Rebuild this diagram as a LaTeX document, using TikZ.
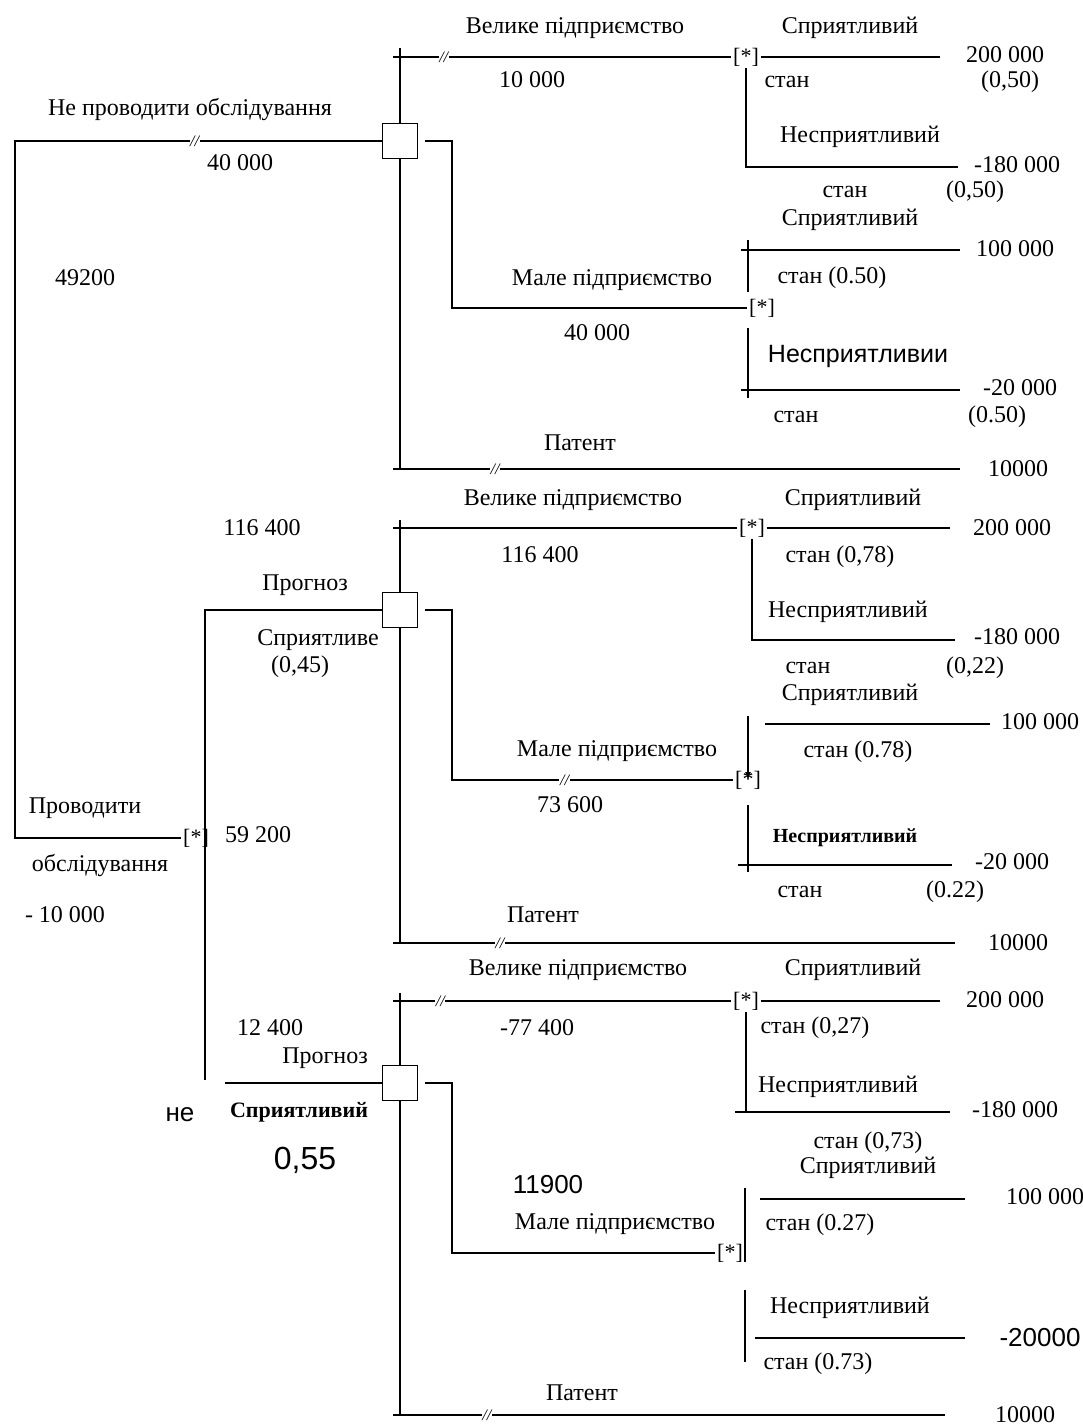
\documentclass[tikz,border=0pt]{standalone}
\usepackage{fontspec}
\setmainfont{Liberation Serif}
\newfontfamily\arialfont{Liberation Sans}
\usetikzlibrary{arrows.meta}

\begin{document}
\begin{tikzpicture}[x=0.5pt,y=-0.5pt,line width=0.9pt,
    txt/.style={font=\fontsize{12}{14}\selectfont,inner sep=0pt},
    smalltxt/.style={font=\fontsize{10}{11}\selectfont\bfseries,inner sep=0pt},
    sanstxt/.style={font=\arialfont\fontsize{13}{15}\selectfont,inner sep=0pt},
    decision/.style={draw,fill=white,minimum size=17.5pt,inner sep=0pt},
    chance/.style={font=\fontsize{11}{13}\selectfont,inner sep=0.5pt},
    cut/.style={fill=white,inner sep=0.3pt,font=\fontsize{8}{8}\selectfont\itshape}]
    \useasboundingbox (0,0) rectangle (1082,1428);

    % root
    \node(c0) [chance] at (196,838) {[*]};
    \coordinate(root) at (15,838);
    \node(d1) [decision] at (400,141) {};
    \node(d2) [decision] at (400,610) {};
    \node(d3) [decision] at (400,1083) {};
    \coordinate(fork) at (205,1080);
    \coordinate(feed) at (225,1083);

    \draw (c0.west) -- (root) |- node[cut,pos=0.745] {//} (d1.west);
    \draw (d2.west) -| (fork);
    \draw (feed) -- (d3.west);

    \node(t0a) [txt] at (190,110) {Не проводити обслідування};
    \node(t0b) [txt] at (240,163) {40 000};
    \node(t0c) [txt] at (85,278) {49200};
    \node(t0d) [txt] at (85,808) {Проводити};
    \node(t0e) [txt] at (100,865) {обслідування};
    \node(t0f) [txt] at (65,915) {- 10 000};
    \node(t0g) [txt] at (258,835) {59 200};
    \node(t0h) [txt] at (262,528) {116 400};
    \node(t0i) [txt] at (305,585) {Прогноз};
    \node(t0j) [txt] at (318,640) {Сприятливе};
    \node(t0k) [txt] at (300,667) {(0,45)};
    \node(t0l) [txt] at (270,1028) {12 400};
    \node(t0m) [txt] at (325,1058) {Прогноз};
    \node(t0n) [sanstxt] at (180,1115) {не};
    \node(t0o) [smalltxt,font=\fontsize{11}{12}\selectfont\bfseries] at (299,1112) {Сприятливий};
    \node(t0p) [sanstxt,font=\arialfont\fontsize{16}{18}\selectfont] at (305,1160) {0,55};

    % top block
    \coordinate(d1t) at (400,48);
    \coordinate(d1b) at (400,469);
    \draw (d1t) -- (d1.north);
    \draw (d1.south) -- (d1b);

    \node(c1) [chance] at (746,57) {[*]};
    \coordinate(a1) at (393,57);
    \coordinate(e1) at (940,57);
    \coordinate(e2) at (958,167);
    \draw (a1) -- node[cut,pos=0.15] {//} (c1.west);
    \draw (c1.east) -- (e1);
    \draw (c1.south) |- (e2);

    \node(c2) [chance] at (762,308) {[*]};
    \draw (d1.east) ++(3.5pt,0) -| (452,308) -- (c2.west);
    \coordinate(u1) at (748,240);
    \coordinate(u2) at (748,292);
    \coordinate(u3) at (741,250);
    \coordinate(e3) at (960,250);
    \coordinate(l1) at (748,328);
    \coordinate(l2) at (748,398);
    \coordinate(l3) at (741,390);
    \coordinate(e4) at (960,390);
    \draw (u1) -- (u2);
    \draw (u3) -- (e3);
    \draw (l1) -- (l2);
    \draw (l3) -- (e4);

    \coordinate(p1) at (393,469);
    \coordinate(e5) at (960,469);
    \draw (p1) -- node[cut,pos=0.18] {//} (e5);

    \node(t1a) [txt] at (575,28) {Велике підприємство};
    \node(t1b) [txt] at (532,80) {10 000};
    \node(t1c) [txt] at (850,28) {Сприятливий};
    \node(t1d) [txt] at (787,82) {стан};
    \node(t1e) [txt] at (1010,82) {(0,50)};
    \node(t1f) [txt] at (1005,55) {200 000};
    \node(t1g) [txt] at (860,137) {Несприятливий};
    \node(t1h) [txt] at (1017,165) {-180 000};
    \node(t1i) [txt] at (845,192) {стан};
    \node(t1j) [txt] at (975,192) {(0,50)};
    \node(t1k) [txt] at (612,280) {Мале підприємство};
    \node(t1l) [txt] at (597,333) {40 000};
    \node(t1m) [txt] at (850,220) {Сприятливий};
    \node(t1n) [txt] at (1015,249) {100 000};
    \node(t1o) [txt] at (832,278) {стан (0.50)};
    \node(t1p) [sanstxt,font=\arialfont\fontsize{12.5}{14}\selectfont] at (858,356) {Несприятливии};
    \node(t1q) [txt] at (1020,388) {-20 000};
    \node(t1r) [txt] at (796,417) {стан};
    \node(t1s) [txt] at (997,417) {(0.50)};
    \node(t1t) [txt] at (580,443) {Патент};
    \node(t1u) [txt] at (1018,469) {10000};

    % middle block
    \coordinate(d2t) at (400,520);
    \coordinate(d2b) at (400,943);
    \draw (d2t) -- (d2.north);
    \draw (d2.south) -- (d2b);

    \node(c3) [chance] at (752,528) {[*]};
    \coordinate(a2) at (393,528);
    \coordinate(e6) at (950,528);
    \coordinate(e7) at (955,640);
    \draw (a2) -- (c3.west);
    \draw (c3.east) -- (e6);
    \draw (c3.south) |- (e7);

    \node(c4) [chance] at (748,780) {[*]};
    \draw (d2.east) ++(3.5pt,0) -| (452,780) -- node[cut,pos=0.4] {//} (c4.west);
    \coordinate(u4) at (748,716);
    \coordinate(u5) at (765,724);
    \coordinate(e8) at (990,724);
    \coordinate(l4) at (748,805);
    \coordinate(l5) at (748,872);
    \coordinate(l6) at (738,865);
    \coordinate(e9) at (952,865);
    \draw[-{Latex[length=4pt,width=3pt]}] (u4) -- (c4.center);
    \draw (u5) -- (e8);
    \draw (l4) -- (l5);
    \draw (l6) -- (e9);

    \coordinate(p2) at (393,943);
    \coordinate(e10) at (955,943);
    \draw (p2) -- node[cut,pos=0.19] {//} (e10);

    \node(t2a) [txt] at (573,500) {Велике підприємство};
    \node(t2b) [txt] at (540,555) {116 400};
    \node(t2c) [txt] at (853,500) {Сприятливий};
    \node(t2d) [txt] at (1012,528) {200 000};
    \node(t2e) [txt] at (840,557) {стан (0,78)};
    \node(t2f) [txt] at (848,612) {Несприятливий};
    \node(t2g) [txt] at (1017,637) {-180 000};
    \node(t2h) [txt] at (808,668) {стан};
    \node(t2i) [txt] at (975,668) {(0,22)};
    \node(t2j) [txt] at (617,751) {Мале підприємство};
    \node(t2k) [txt] at (570,805) {73 600};
    \node(t2l) [txt] at (850,695) {Сприятливий};
    \node(t2m) [txt] at (1040,722) {100 000};
    \node(t2n) [txt] at (858,752) {стан (0.78)};
    \node(t2o) [smalltxt] at (845,838) {Несприятливий};
    \node(t2p) [txt] at (1012,862) {-20 000};
    \node(t2q) [txt] at (800,892) {стан};
    \node(t2r) [txt] at (955,892) {(0.22)};
    \node(t2s) [txt] at (543,915) {Патент};
    \node(t2t) [txt] at (1018,943) {10000};

    % bottom block
    \coordinate(d3t) at (400,993);
    \coordinate(d3b) at (400,1415);
    \draw (d3t) -- (d3.north);
    \draw (d3.south) -- (d3b);

    \node(c5) [chance] at (746,1001) {[*]};
    \coordinate(a3) at (393,1001);
    \coordinate(e11) at (940,1001);
    \coordinate(e12) at (950,1112);
    \coordinate(l7) at (735,1112);
    \draw (a3) -- node[cut,pos=0.14] {//} (c5.west);
    \draw (c5.east) -- (e11);
    \draw (c5.south) |- (e12);
    \draw (l7) -- (e12);

    \node(c6) [chance] at (730,1253) {[*]};
    \draw (d3.east) ++(3.5pt,0) -| (452,1253) -- (c6.west);
    \coordinate(u6) at (745,1188);
    \coordinate(u7) at (745,1262);
    \coordinate(u8) at (760,1199);
    \coordinate(e13) at (965,1199);
    \coordinate(l8) at (745,1290);
    \coordinate(l9) at (745,1362);
    \coordinate(l10) at (755,1338);
    \coordinate(e14) at (965,1338);
    \draw (u6) -- (u7);
    \draw (u8) -- (e13);
    \draw (l8) -- (l9);
    \draw (l10) -- (e14);

    \coordinate(p3) at (393,1415);
    \coordinate(e15) at (945,1415);
    \draw (p3) -- node[cut,pos=0.17] {//} (e15);

    \node(t3a) [txt] at (578,970) {Велике підприємство};
    \node(t3b) [txt] at (537,1028) {-77 400};
    \node(t3c) [txt] at (853,970) {Сприятливий};
    \node(t3d) [txt] at (1005,1000) {200 000};
    \node(t3e) [txt] at (815,1028) {стан (0,27)};
    \node(t3f) [txt] at (838,1087) {Несприятливий};
    \node(t3g) [txt] at (1015,1110) {-180 000};
    \node(t3h) [txt] at (868,1143) {стан (0,73)};
    \node(t3i) [sanstxt] at (548,1185) {11900};
    \node(t3j) [txt] at (615,1224) {Мале підприємство};
    \node(t3k) [txt] at (868,1168) {Сприятливий};
    \node(t3l) [txt] at (1045,1197) {100 000};
    \node(t3m) [txt] at (820,1225) {стан (0.27)};
    \node(t3n) [txt] at (850,1308) {Несприятливий};
    \node(t3o) [sanstxt] at (1040,1338) {-20000};
    \node(t3p) [txt] at (818,1364) {стан (0.73)};
    \node(t3q) [txt] at (582,1393) {Патент};
    \node(t3r) [txt] at (1025,1415) {10000};
\end{tikzpicture}
\end{document}
